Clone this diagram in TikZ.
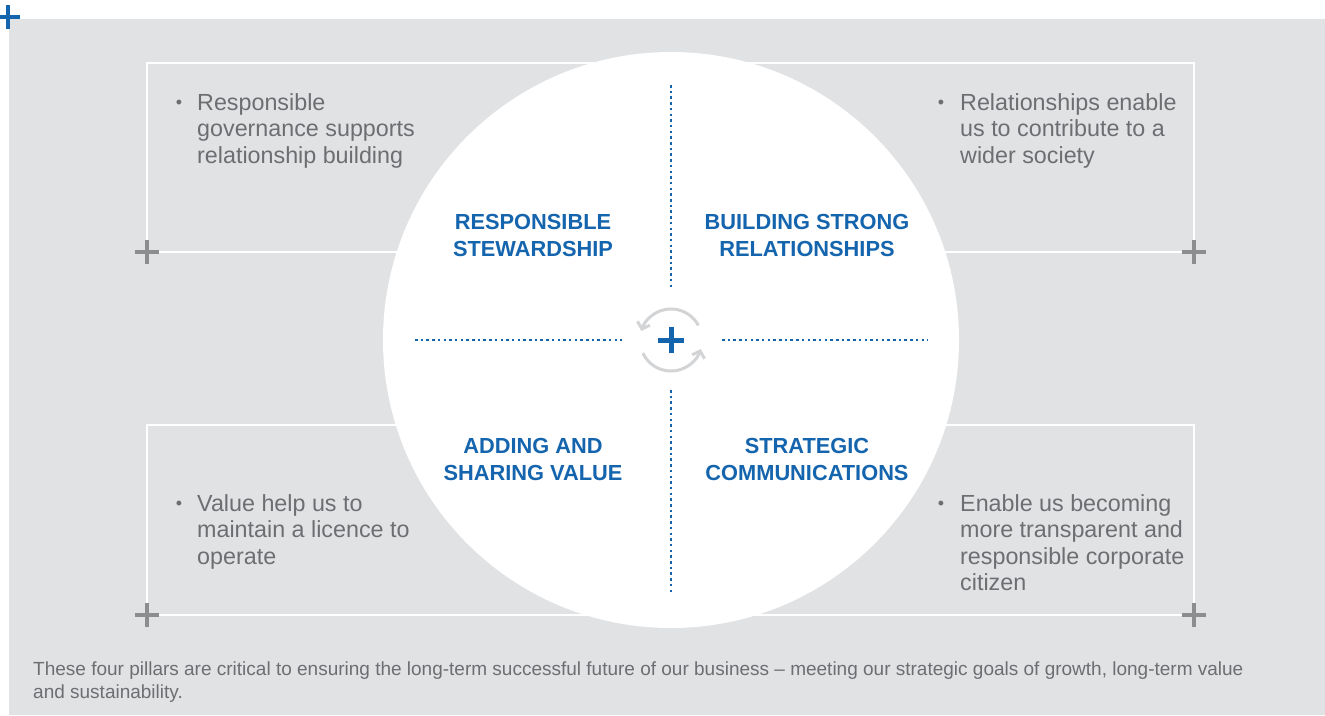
\documentclass[tikz,border=0pt]{standalone}
\usepackage{fontspec}
\setmainfont{Liberation Sans}
\usetikzlibrary{positioning, arrows.meta}
\definecolor{panelgray}{HTML}{E1E2E4}
\definecolor{pillarblue}{HTML}{1565AE}
\definecolor{bodygray}{HTML}{6D6E71}
\definecolor{markgray}{HTML}{8C8D8F}
\definecolor{ringgray}{HTML}{D3D4D6}
\tikzstyle{frame} = [
    draw=white,
    line width=2.5pt
]
\tikzstyle{pillar} = [
    align=center,
    anchor=north,
    inner sep=0pt,
    text=pillarblue,
    font=\fontsize{21.8}{27.5}\selectfont\bfseries
]
\tikzstyle{point} = [
    align=left,
    anchor=north west,
    inner sep=0pt,
    text=bodygray,
    font=\fontsize{23.3}{26.5}\selectfont
]
\tikzstyle{dot} = [
    inner sep=0pt,
    text=bodygray,
    font=\fontsize{18}{18}\selectfont
]
\tikzstyle{divider} = [
    draw=pillarblue,
    line width=2.5pt,
    dash pattern=on 2.5pt off 3.2pt
]
\tikzstyle{marker} = [draw=markgray, line width=4pt]
\tikzstyle{ring} = [
    draw=ringgray,
    line width=3pt,
    -{Straight Barb[length=6pt, width=13pt]}
]

\begin{document}
\begin{tikzpicture}[x=1pt, y=-1pt]

\useasboundingbox (0,0) rectangle (1325,715);
\fill[panelgray] (9,19) rectangle (1325,715);

% corner mark
\draw[pillarblue, line width=4pt] (0,17) -- (20,17) (8,5) -- (8,29);

% frames behind the disc
\draw[frame] (147,252) -- (147,63) -- (1194,63) -- (1194,252) -- cycle;
\draw[frame] (147,615) -- (147,425) -- (1194,425) -- (1194,615) -- cycle;

\coordinate (hub) at (671,340);
\fill[white] (hub) circle[radius=288pt];

% corner markers
\foreach \px/\py in {147/252, 1194/252, 147/615, 1194/615}
    \draw[marker] (\px-12,\py) -- (\px+12,\py) (\px,\py-12) -- (\px,\py+12);

% dividers
\draw[divider] (671,85) -- (671,290);
\draw[divider] (671,390) -- (671,595);
\draw[divider] (415,340) -- (622,340);
\draw[divider] (722,340) -- (928,340);

% cycle icon
\draw[ring] ([shift={(28:31pt)}]hub) arc[start angle=28, end angle=163, radius=31pt];
\draw[ring] ([shift={(205:31pt)}]hub) arc[start angle=205, end angle=343, radius=31pt];
\draw[pillarblue, line width=5pt] (658,340) -- (684,340) (671,327) -- (671,353);

% pillar titles
\node (steward) [pillar] at (533,214) {RESPONSIBLE\\STEWARDSHIP};
\node (relation) [pillar] at (807,214) {BUILDING STRONG\\RELATIONSHIPS};
\node (value) [pillar] at (533,438) {ADDING AND\\SHARING VALUE};
\node (comms) [pillar] at (807,438) {STRATEGIC\\COMMUNICATIONS};

% bullet points
\node (govtext) [point] at (197,93)
{Responsible\\governance supports\\relationship building};
\node (govdot) [dot] at (179,104) {•};

\node (soctext) [point] at (960,93)
{Relationships enable\\us to contribute to a\\wider society};
\node (socdot) [dot] at (941,104) {•};

\node (lictext) [point] at (197,494)
{Value help us to\\maintain a licence to\\operate};
\node (licdot) [dot] at (179,505) {•};

\node (cittext) [point] at (960,494)
{Enable us becoming\\more transparent and\\responsible corporate\\citizen};
\node (citdot) [dot] at (941,505) {•};

% footnote
\node (note) [point, font=\fontsize{19}{23}\selectfont] at (33,662)
{These four pillars are critical to ensuring the long-term successful future of our business -- meeting our strategic goals of growth, long-term value\\and sustainability.};

\end{tikzpicture}
\end{document}
